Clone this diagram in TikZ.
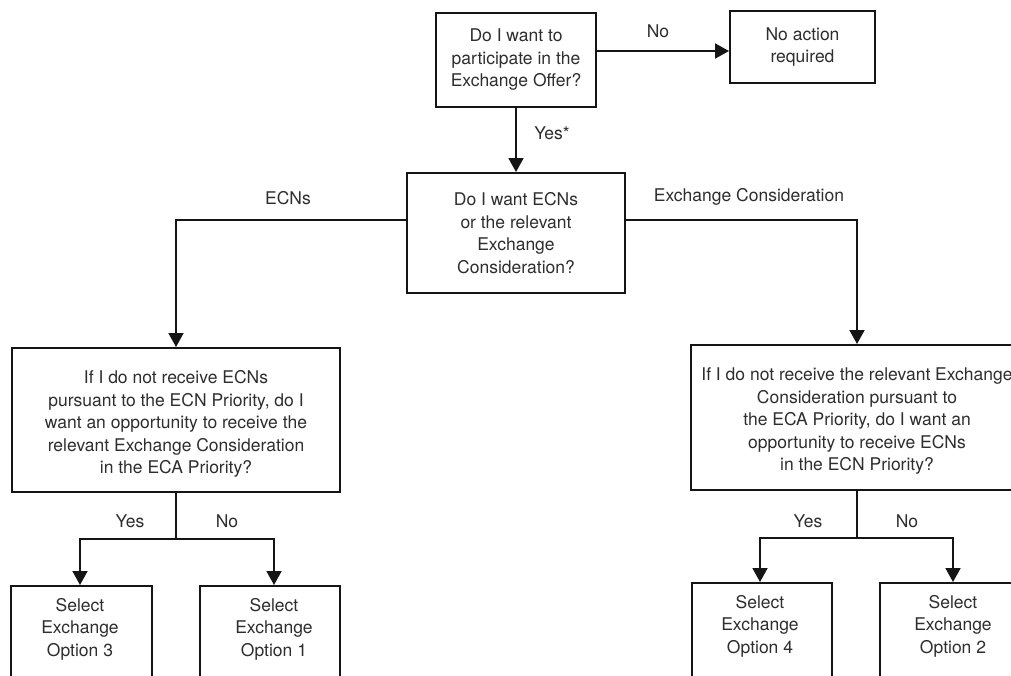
\documentclass[tikz,border=0pt]{standalone}
\usepackage{fontspec}
\setmainfont{TeX Gyre Heros}
\usetikzlibrary{arrows.meta,calc}
\definecolor{txtc}{HTML}{2E2E2E}
\definecolor{linec}{HTML}{151515}
\tikzset{
  box/.style={draw=linec,line width=2pt,rectangle,inner sep=0pt,align=center,text=txtc,font=\fontsize{17.5}{22.5}\selectfont},
  txt/.style={inner sep=0pt,align=center,text=txtc,font=\fontsize{17.5}{22.5}\selectfont},
  lbl/.style={inner sep=0pt,text=txtc,font=\fontsize{17.5}{22.5}\selectfont},
  conn/.style={draw=linec,line width=1.8pt},
  arr/.style={conn,-{Triangle[length=14pt,width=15pt]}}
}
\begin{document}
\begin{tikzpicture}[x=1pt,y=-1pt]
\clip (0,0) rectangle (1011,675);
\fill[white] (0,0) rectangle (1011,675);
% top decision
\node[box,minimum width=160pt,minimum height=94pt] (q1) at (516,60) {Do I want to\\participate in the\\Exchange Offer?};
\node[box,minimum width=145pt,minimum height=72pt] (na) at (802.5,47) {No action\\required};
\node[box,minimum width=218pt,minimum height=120pt] (q2) at (516,233) {Do I want ECNs\\or the relevant\\Exchange\\Consideration?};
% big boxes
\node[box,minimum width=328pt,minimum height=144pt] (L) at (176,420) {};
\node[txt] (Lt) at (176,424) {If I do not receive ECNs\\pursuant to the ECN Priority, do I\\want an opportunity to receive the\\relevant Exchange Consideration\\in the ECA Priority?};
\node[box,minimum width=332pt,minimum height=145pt] (R) at (857,417.5) {};
\node[txt] (Rt) at (857,421) {If I do not receive the relevant Exchange\\Consideration pursuant to\\the ECA Priority, do I want an\\opportunity to receive ECNs\\in the ECN Priority?};
% bottom boxes
\node[box,anchor=north,minimum width=141pt,minimum height=110pt] (o3) at (81.5,585) {};
\node[txt] (t3) at (80,629) {Select\\Exchange\\Option 3};
\node[box,anchor=north,minimum width=140pt,minimum height=110pt] (o1) at (270,585) {};
\node[txt] (t1) at (274,629) {Select\\Exchange\\Option 1};
\node[box,anchor=north,minimum width=140pt,minimum height=110pt] (o4) at (762,582) {};
\node[txt] (t4) at (760,626) {Select\\Exchange\\Option 4};
\node[box,anchor=north,minimum width=142pt,minimum height=110pt] (o2) at (951,582) {};
\node[txt] (t2) at (953,626) {Select\\Exchange\\Option 2};
% junctions
\coordinate (lj) at (176,539);
\coordinate (rj) at (857,538);
% connectors
\draw[arr] ([yshift=9pt]q1.east) -- ([yshift=9pt]q1.east -| na.west);
\draw[arr] (q1.south) -- (q2.north);
\draw[arr] ([yshift=13pt]q2.west) -| (L.north);
\draw[arr] ([yshift=13pt]q2.east) -| (R.north);
\draw[conn] (L.south) -- (lj);
\draw[arr] (lj) -| (t3 |- o3.north);
\draw[arr] (lj) -| (t1 |- o1.north);
\draw[conn] (R.south) -- (rj);
\draw[arr] (rj) -| (t4 |- o4.north);
\draw[arr] (rj) -| (t2 |- o2.north);
% labels
\node[lbl] (lno) at (658,31) {No};
\node[lbl] (lyes) at (552,133) {Yes*};
\node[lbl] (lecn) at (288,198) {ECNs};
\node[lbl] (lec) at (749,197) {Exchange Consideration};
\node[lbl] (ly1) at (130,521) {Yes};
\node[lbl] (ln1) at (227,521) {No};
\node[lbl] (ly2) at (808,521) {Yes};
\node[lbl] (ln2) at (907,521) {No};
\end{tikzpicture}
\end{document}
